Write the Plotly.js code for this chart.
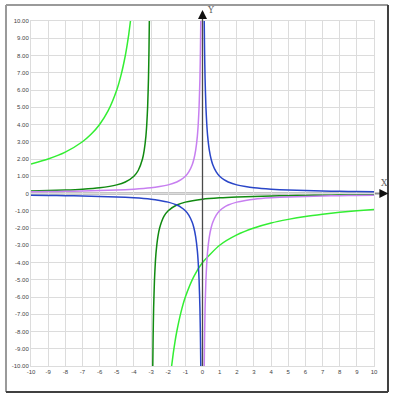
<!DOCTYPE html>
<html>
<head>
<meta charset="utf-8">
<script src="https://cdn.plot.ly/plotly-3.0.1.min.js"></script>
<style>html,body{margin:0;padding:0;background:#fff;}#chart{width:398px;height:400px;}</style>
</head>
<body>
<div id="chart"></div>
<script>
// Blue curve (two branches)
const blueX = [-10,-9,-8,-7,-6,-5,-4,-3,-2.5,-2,-1.5,-1.25,-1,-0.8,-0.6,-0.5,-0.4,-0.3,-0.25,-0.2,-0.15,-0.12,-0.1,
               null,
               0.1,0.12,0.15,0.2,0.25,0.3,0.4,0.5,0.6,0.8,1,1.25,1.5,2,2.5,3,4,5,6,7,8,9,10];
const blueY = [-0.1,-0.11,-0.125,-0.14,-0.17,-0.2,-0.25,-0.33,-0.4,-0.5,-0.67,-0.8,-1,-1.25,-1.67,-2,-2.5,-3.33,-4,-5,-6.67,-8.33,-10,
               null,
               10,8.33,6.67,5,4,3.33,2.5,2,1.67,1.25,1,0.8,0.67,0.5,0.4,0.33,0.25,0.2,0.17,0.14,0.125,0.11,0.1];
// Purple curve
const purpleX = [-10,-9,-8,-7,-6,-5,-4,-3,-2.5,-2,-1.5,-1.25,-1,-0.8,-0.6,-0.5,-0.4,-0.3,-0.25,-0.2,-0.15,-0.12,-0.1,
                 null,
                 0.1,0.12,0.15,0.2,0.25,0.3,0.4,0.5,0.6,0.8,1,1.25,1.5,2,2.5,3,4,5,6,7,8,9,10];
const purpleY = [0.1,0.11,0.125,0.14,0.17,0.2,0.25,0.33,0.4,0.5,0.67,0.8,1,1.25,1.67,2,2.5,3.33,4,5,6.67,8.33,10,
                 null,
                 -10,-8.33,-6.67,-5,-4,-3.33,-2.5,-2,-1.67,-1.25,-1,-0.8,-0.67,-0.5,-0.4,-0.33,-0.25,-0.2,-0.17,-0.14,-0.125,-0.11,-0.1];
// Dark green curve
const dgreenX = [-10,-9,-8,-7,-6,-5,-4.5,-4,-3.75,-3.5,-3.4,-3.3,-3.25,-3.2,-3.15,-3.12,-3.1,
                 null,
                 -2.9,-2.88,-2.85,-2.8,-2.75,-2.7,-2.6,-2.5,-2.25,-2,-1.5,-1,0,1,2,3,4,5,6,7,8,9,10];
const dgreenY = [0.143,0.167,0.2,0.25,0.333,0.5,0.667,1,1.333,2,2.5,3.33,4,5,6.67,8.33,10,
                 null,
                 -10,-8.33,-6.67,-5,-4,-3.33,-2.5,-2,-1.33,-1,-0.667,-0.5,-0.333,-0.25,-0.2,-0.167,-0.143,-0.125,-0.111,-0.1,-0.091,-0.083,-0.077];
// Light green curve
const lgreenX = [-10,-9,-8,-7,-6.5,-6,-5.5,-5,-4.75,-4.5,-4.4,-4.3,-4.2,
                 null,
                 -1.8,-1.7,-1.6,-1.5,-1.25,-1,-0.5,0,1,2,3,4,5,6,7,8,9,10];
const lgreenY = [1.714,2,2.4,3,3.43,4,4.8,6,6.86,8,8.57,9.23,10,
                 null,
                 -10,-9.23,-8.57,-8,-6.86,-6,-4.8,-4,-3,-2.4,-2,-1.71,-1.5,-1.33,-1.2,-1.09,-1,-0.923];

const xTickVals = [-10,-9,-8,-7,-6,-5,-4,-3,-2,-1,0,1,2,3,4,5,6,7,8,9,10];
const xTickText = ["-10","-9","-8","-7","-6","-5","-4","-3","-2","-1","0","1","2","3","4","5","6","7","8","9","10"];
const yTickVals = [-10,-9,-8,-7,-6,-5,-4,-3,-2,-1,0,1,2,3,4,5,6,7,8,9,10];
const yTickText = ["-10.00","-9.00","-8.00","-7.00","-6.00","-5.00","-4.00","-3.00","-2.00","-1.00","0",
                   "1.00","2.00","3.00","4.00","5.00","6.00","7.00","8.00","9.00","10.00"];

function tr(x, y, color) {
  return {x: x, y: y, type: 'scatter', mode: 'lines', connectgaps: false,
          line: {color: color, width: 1.5, shape: 'spline', smoothing: 0.6},
          hoverinfo: 'skip', showlegend: false};
}
const data = [
  tr(lgreenX, lgreenY, '#33ee33'),
  tr(dgreenX, dgreenY, '#118a11'),
  tr(purpleX, purpleY, '#c77ff0'),
  tr(blueX, blueY, '#2a46c8')
];

const tickFont = {family: 'Liberation Sans, Arial, sans-serif', size: 6, color: '#444'};
const layout = {
  width: 398, height: 400,
  margin: {l: 31, r: 24, t: 21, b: 34, pad: 0},
  paper_bgcolor: '#fff', plot_bgcolor: '#fff',
  showlegend: false,
  xaxis: {range: [-10, 10], tickvals: xTickVals, ticktext: xTickText, showgrid: true,
          gridcolor: '#dcdcdc', gridwidth: 1, zeroline: false, showline: true, linecolor: '#dcdcdc',
          mirror: true, ticks: '', tickfont: tickFont, fixedrange: true},
  yaxis: {range: [-10, 10], tickvals: yTickVals, ticktext: yTickText, showgrid: true,
          gridcolor: '#dcdcdc', gridwidth: 1, zeroline: false, showline: true, linecolor: '#dcdcdc',
          mirror: true, ticks: '', tickfont: tickFont, fixedrange: true},
  shapes: [
    // axis lines
    {type: 'line', xref: 'paper', yref: 'y', x0: 0, x1: 1.03, y0: 0, y1: 0,
     line: {color: '#8c8c8c', width: 2}, layer: 'between'},
    {type: 'line', xref: 'paper', yref: 'paper', x0: 0.5, x1: 0.5, y0: 0, y1: 1.025,
     line: {color: '#4a4a4a', width: 1.3}, layer: 'above'},
    // frame
    {type: 'line', xref: 'paper', yref: 'paper', x0: -0.0729, x1: 1.0408, y0: 1.0464, y1: 1.0464,
     line: {color: '#9a9a9a', width: 2}},
    {type: 'line', xref: 'paper', yref: 'paper', x0: -0.0729, x1: -0.0729, y0: -0.0754, y1: 1.0464,
     line: {color: '#9a9a9a', width: 2}},
    {type: 'line', xref: 'paper', yref: 'paper', x0: 1.0408, x1: 1.0408, y0: -0.0754, y1: 1.0464,
     line: {color: '#404040', width: 2}},
    {type: 'line', xref: 'paper', yref: 'paper', x0: -0.0729, x1: 1.0408, y0: -0.0754, y1: -0.0754,
     line: {color: '#404040', width: 2}}
  ],
  annotations: [
    {xref: 'paper', yref: 'paper', x: 1.042, y: 0.5, ax: -8, ay: 0, text: '', showarrow: true,
     arrowhead: 2, arrowsize: 1.2, arrowwidth: 1.5, arrowcolor: '#111'},
    {xref: 'paper', yref: 'paper', x: 0.5, y: 1.032, ax: 0, ay: 8, text: '', showarrow: true,
     arrowhead: 2, arrowsize: 1.2, arrowwidth: 1.5, arrowcolor: '#111'},
    {xref: 'paper', yref: 'paper', x: 1.032, y: 0.53, xanchor: 'center', yanchor: 'middle', text: 'X', showarrow: false,
     font: {family: 'DejaVu Serif, serif', size: 9, color: '#666'}},
    {xref: 'paper', yref: 'paper', x: 0.525, y: 1.032, xanchor: 'center', yanchor: 'middle', text: 'Y', showarrow: false,
     font: {family: 'DejaVu Serif, serif', size: 9, color: '#666'}}
  ]
};
Plotly.newPlot('chart', data, layout, {displayModeBar: false, staticPlot: true});
</script>
</body>
</html>
